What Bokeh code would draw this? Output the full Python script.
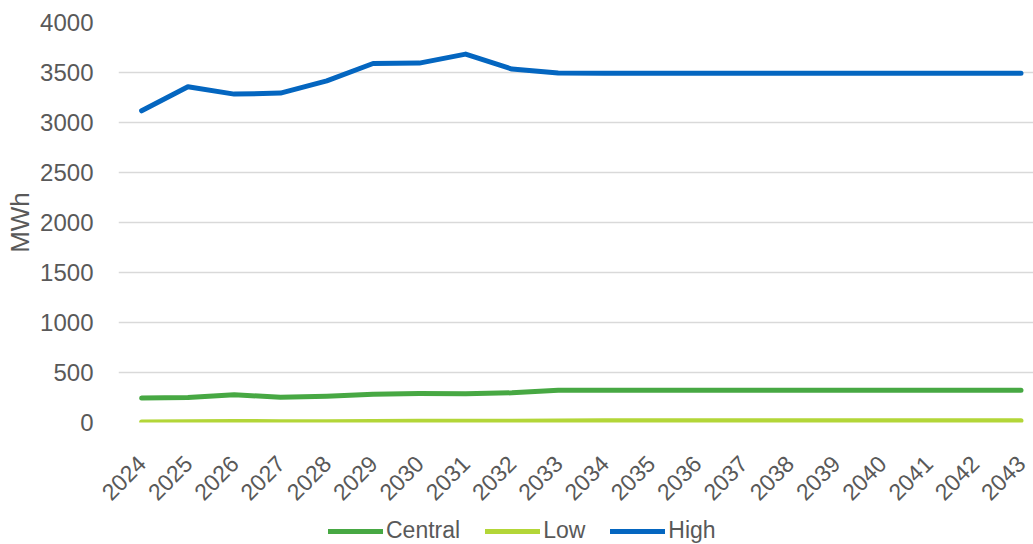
from bokeh.plotting import figure
from bokeh.models import Range1d, FixedTicker, Legend, LegendItem
from bokeh.layouts import column
from bokeh.embed import file_html
from bokeh.resources import INLINE

years = list(range(2024, 2044))
central = [244, 250, 277, 253, 263, 283, 290, 287, 297, 322] + [322] * 10
low = [6, 7, 10, 8, 8, 10, 12, 12, 12, 15] + [17] * 10
high = [3117, 3357, 3284, 3294, 3417, 3590, 3594, 3684, 3534, 3494] + [3492] * 10
y_ticks = [0, 500, 1000, 1500, 2000, 2500, 3000, 3500, 4000]
series_names = ["Central", "Low", "High"]
series_colors = ["#47a843", "#b3d638", "#0466c0"]

FONT = "Liberation Sans"
TXT = "#595959"

p = figure(width=1033, height=515, output_backend="svg", toolbar_location=None,
           x_range=Range1d(2023.5, 2043.27), y_range=Range1d(0, 4000),
           min_border_left=118, min_border_right=0, min_border_top=22, min_border_bottom=93)
p.outline_line_color = None
p.background_fill_color = "white"

p.xaxis.ticker = FixedTicker(ticks=years)
p.xaxis.major_label_orientation = 0.785398
p.yaxis.ticker = FixedTicker(ticks=y_ticks)
for ax in (p.xaxis, p.yaxis):
    ax.axis_line_color = None
    ax.major_tick_line_color = None
    ax.minor_tick_line_color = None
    ax.major_label_text_font = FONT
    ax.major_label_text_font_size = "23px"
    ax.major_label_text_color = TXT
p.yaxis.major_label_text_font_size = "24px"
p.yaxis.major_label_standoff = 19
p.xaxis.major_label_standoff = 31
p.yaxis.axis_label = "MWh"
p.yaxis.axis_label_text_font = FONT
p.yaxis.axis_label_text_font_size = "26px"
p.yaxis.axis_label_text_font_style = "normal"
p.yaxis.axis_label_text_color = TXT
p.yaxis.axis_label_standoff = 2

p.xgrid.grid_line_color = None
p.ygrid.grid_line_color = "#d9d9d9"
p.ygrid.grid_line_width = 1.5

for vals, col in zip([central, low, high], series_colors):
    p.line(years, vals, line_color=col, line_width=5, line_join="round", line_cap="round")

# legend strip
q = figure(width=1033, height=29, output_backend="svg", toolbar_location=None,
           x_range=Range1d(0, 1), y_range=Range1d(0, 1),
           min_border_left=0, min_border_right=0, min_border_top=0, min_border_bottom=0)
q.axis.visible = False
q.grid.grid_line_color = None
q.outline_line_color = None
items = []
for name, col in zip(series_names, series_colors):
    r = q.line([5, 6], [5, 6], line_color=col, line_width=5, line_cap="round")
    items.append(LegendItem(label=name, renderers=[r]))
legend = Legend(items=items, orientation="horizontal", location=(210, 0),
                label_text_font=FONT, label_text_font_size="23px", label_text_color=TXT,
                glyph_width=55, glyph_height=20, label_standoff=3, spacing=25,
                border_line_color=None, background_fill_alpha=0, padding=0, margin=0)
q.add_layout(legend, "center")

layout = column(p, q, spacing=0)
open("out.html", "w").write(file_html(layout, INLINE))
